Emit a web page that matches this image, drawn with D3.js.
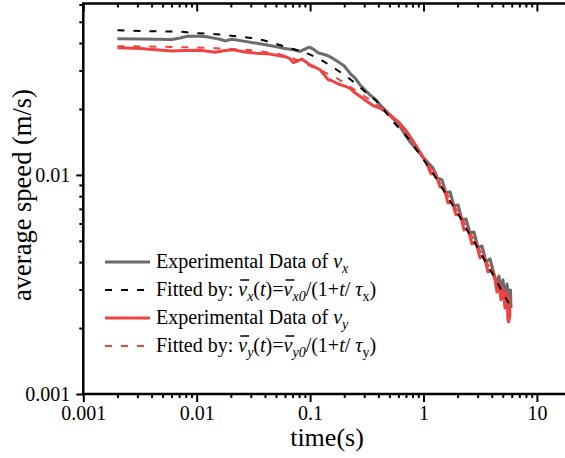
<!DOCTYPE html>
<html>
<head>
<meta charset="utf-8">
<script src="https://cdn.jsdelivr.net/npm/d3@7/dist/d3.min.js"></script>
<style>
  html, body { margin: 0; padding: 0; background: #fff; }
  svg { display: block; font-family: "Liberation Serif", "Times New Roman", serif; }
</style>
</head>
<body>
<div id="chart"></div>
<script>
const vxTime = [0.002, 0.00316, 0.00602, 0.00712, 0.00838, 0.0107, 0.01225, 0.0145, 0.01605, 0.01777, 0.0205, 0.02667,
  0.0338, 0.0443, 0.0577, 0.0692, 0.0815, 0.0984, 0.106, 0.1174, 0.140, 0.156, 0.176, 0.199, 0.225, 0.249,
  0.275, 0.305, 0.337, 0.381, 0.428, 0.507, 0.621, 0.760, 1.0,
  1.213, 1.315, 1.456, 1.579, 1.713, 1.858, 2.015, 2.185, 2.370, 2.57, 2.788, 3.024, 3.280, 3.557, 3.86, 4.185,
  4.45, 4.63, 4.82, 5.02, 5.23, 5.45, 5.68, 5.85, 5.91]
const vxSpeed = [0.0418, 0.0417, 0.0415, 0.0422, 0.0430, 0.0429, 0.0427, 0.0420, 0.0416, 0.0409, 0.0416, 0.0407,
  0.0399, 0.0390, 0.0379, 0.0374, 0.0366, 0.0383, 0.0376, 0.0361, 0.0352, 0.0342, 0.0329, 0.0315, 0.0291, 0.0277,
  0.0258, 0.0244, 0.0232, 0.0220, 0.0205, 0.0188, 0.0166, 0.01415, 0.01196,
  0.01076, 0.00969, 0.00949, 0.00828, 0.00837, 0.00722, 0.00730, 0.00623, 0.00630, 0.00543, 0.00549, 0.00464, 0.00474, 0.00401, 0.00414, 0.00353,
  0.00315, 0.00346, 0.00292, 0.00332, 0.00274, 0.00318, 0.00263, 0.00298, 0.00247]

const vyTime = [0.002, 0.00316, 0.00602, 0.00788, 0.0107, 0.0145, 0.01777, 0.0209, 0.02667, 0.0338, 0.0443, 0.0622,
  0.0665, 0.0711, 0.0782, 0.0843, 0.0920, 0.0998, 0.1223, 0.1447, 0.156, 0.1773, 0.199, 0.225, 0.249, 0.305, 0.3607,
  0.428, 0.507, 0.621, 0.711, 0.871, 1.067,
  1.165, 1.263, 1.398, 1.516, 1.644, 1.783, 1.934, 2.10, 2.276, 2.469, 2.677, 2.904, 3.15, 3.416, 3.706, 4.019,
  4.27, 4.45, 4.63, 4.82, 5.02, 5.23, 5.45, 5.56, 5.68, 5.79, 5.6]
const vySpeed = [0.0381, 0.0378, 0.0368, 0.0370, 0.0371, 0.0363, 0.0370, 0.0373, 0.0364, 0.0359, 0.0356, 0.0345,
  0.0339, 0.0326, 0.0332, 0.0338, 0.0328, 0.0318, 0.0302, 0.0272, 0.0269, 0.0260, 0.0255, 0.0249, 0.0237, 0.0220, 0.0207,
  0.0200, 0.0188, 0.0172, 0.01577, 0.01346, 0.01131,
  0.01011, 0.01032, 0.00882, 0.00873, 0.00745, 0.00753, 0.00657, 0.00664, 0.00561, 0.00567, 0.00484, 0.00494, 0.00418, 0.00427, 0.00361, 0.00368,
  0.00332, 0.00292, 0.00321, 0.00269, 0.00305, 0.00247, 0.00289, 0.00218, 0.00274, 0.00229, 0.00211]

// fitted curves
const fitxTime = [0.002, 0.00475, 0.00666, 0.01, 0.0145, 0.0210, 0.0338, 0.0665, 0.0933, 0.1266, 0.1716, 0.2327, 0.305,
  0.4135, 0.5243, 0.711, 0.871, 1.102, 1.35, 1.621, 1.987, 2.404, 2.945, 3.557, 4.27, 5.13, 5.79]
const fitxSpeed = [0.0458, 0.0452, 0.0451, 0.0444, 0.0439, 0.0431, 0.0418, 0.0379, 0.0359, 0.0333, 0.0302, 0.0270, 0.0240,
  0.0209, 0.0178, 0.01496, 0.0130, 0.01091, 0.00932, 0.00796, 0.00673, 0.00565, 0.00474, 0.00398, 0.00338, 0.00283, 0.00255]

const fityTime = [0.002, 0.00582, 0.0145, 0.0338, 0.0601, 0.0933, 0.1274, 0.1773, 0.249, 0.337, 0.4576, 0.711, 1.102,
  1.987, 3.557, 5.79]
const fitySpeed = [0.0387, 0.0384, 0.0379, 0.0368, 0.0350, 0.0320, 0.0298, 0.0274, 0.0244, 0.0220, 0.0194, 0.0154, 0.0111,
  0.00685, 0.00405, 0.00260]

const xTickLabels = ['0.001', '0.01', '0.1', '1', '10']
const yTickLabels = ['0.001', '0.01']

const width = 565
const height = 458
const leftX = 83.3
const bottomY = 394
const topY = 3.5
const decadeX = 113.4

const gray = '#6b6b6b'
const red = '#ee4343'
const serif = '"Liberation Serif", "Times New Roman", serif'

const svg = d3.select('#chart').append('svg')
  .attr('width', width)
  .attr('height', height)
  .attr('font-family', serif)

const x = d3.scaleLog()
  .domain([0.001, 20])
  .range([leftX, leftX + decadeX * Math.log10(20 / 0.001)])

const y = d3.scaleLog()
  .domain([0.001, 0.0606])
  .range([bottomY, topY])

const isMajor = (d) => Math.abs(Math.log10(d) - Math.round(Math.log10(d))) < 1e-6

const xTicks = x.ticks().filter(d => d <= 12)
const yTicks = y.ticks()

// data lines
const rawLine = d3.line()
  .x(d => x(d[0]))
  .y(d => y(d[1]))

const smoothLine = d3.line()
  .x(d => x(d[0]))
  .y(d => y(d[1]))
  .curve(d3.curveMonotoneX)

const plot = svg.append('g')

plot.append('path')
  .datum(d3.zip(vxTime, vxSpeed))
  .attr('d', rawLine)
  .attr('fill', 'none')
  .attr('stroke', gray)
  .attr('stroke-width', 3)
  .attr('stroke-linejoin', 'round')

plot.append('path')
  .datum(d3.zip(vyTime, vySpeed))
  .attr('d', rawLine)
  .attr('fill', 'none')
  .attr('stroke', red)
  .attr('stroke-width', 3)
  .attr('stroke-linejoin', 'round')

plot.append('path')
  .datum(d3.zip(fityTime, fitySpeed))
  .attr('d', smoothLine)
  .attr('fill', 'none')
  .attr('stroke', red)
  .attr('stroke-width', 2)
  .attr('stroke-dasharray', '7,9')

plot.append('path')
  .datum(d3.zip(fitxTime, fitxSpeed))
  .attr('d', smoothLine)
  .attr('fill', 'none')
  .attr('stroke', '#000')
  .attr('stroke-width', 2)
  .attr('stroke-dasharray', '7,9')

// axes
const fmtX = d => isMajor(d) ? xTickLabels[Math.round(Math.log10(d)) + 3] : ''
const fmtY = d => isMajor(d) ? yTickLabels[Math.round(Math.log10(d)) + 3] : ''

const styleAxis = (g) => {
  g.attr('font-family', serif).attr('font-size', 20)
  g.select('.domain').remove()
  g.selectAll('.tick line').attr('stroke', '#000').attr('stroke-width', 2)
  g.selectAll('.tick text').attr('fill', '#000')
}

const xAxis = svg.append('g')
  .attr('transform', `translate(0,${bottomY})`)
  .call(d3.axisBottom(x).tickValues(xTicks).tickFormat(fmtX).tickSize(4).tickPadding(8))
  .call(styleAxis)
xAxis.selectAll('.tick').filter(isMajor).select('line').attr('y2', 8)

const topAxis = svg.append('g')
  .attr('transform', `translate(0,${topY})`)
  .call(d3.axisTop(x).tickValues(xTicks).tickFormat('').tickSize(-4))
  .call(styleAxis)
topAxis.selectAll('.tick').filter(isMajor).select('line').attr('y2', 8)

const yAxis = svg.append('g')
  .attr('transform', `translate(${leftX},0)`)
  .call(d3.axisLeft(y).tickValues(yTicks).tickFormat(fmtY).tickSize(4).tickPadding(9))
  .call(styleAxis)
yAxis.selectAll('.tick').filter(isMajor).select('line').attr('x2', -7)

// frame lines
svg.append('path')
  .attr('d', `M${leftX},${bottomY}V${topY}H${width + 2}M${leftX},${bottomY}H${width + 2}`)
  .attr('fill', 'none')
  .attr('stroke', '#000')
  .attr('stroke-width', 2.5)

// axis titles
svg.append('text')
  .attr('x', 327)
  .attr('y', 446)
  .attr('text-anchor', 'middle')
  .attr('font-size', 26)
  .text('time(s)')

svg.append('text')
  .attr('transform', 'translate(31,195) rotate(-90)')
  .attr('text-anchor', 'middle')
  .attr('font-size', 26.5)
  .text('average speed (m/s)')

// legend
const legend = svg.append('g').attr('font-size', 20)
const rows = [
  { color: gray, dash: null, w: 3, parts: [['Experimental Data of ', 'n'], ['v', 'i'], ['x', 'is']] },
  { color: '#000', dash: '7,9', w: 2, parts: [['Fitted by: ', 'n'], ['v', 'ib'], ['x', 'is'], ['(', 'n'], ['t', 'i'], [')=', 'n'], ['v', 'ib'], ['x0', 'is'], ['/(1+', 'n'], ['t', 'i'], ['/ ', 'n'], ['τ', 'i'], ['x', 's'], [')', 'n']] },
  { color: red, dash: null, w: 3, parts: [['Experimental Data of ', 'n'], ['v', 'i'], ['y', 'is']] },
  { color: red, dash: '7,9', w: 2, parts: [['Fitted by: ', 'n'], ['v', 'ib'], ['y', 'is'], ['(', 'n'], ['t', 'i'], [')=', 'n'], ['v', 'ib'], ['y0', 'is'], ['/(1+', 'n'], ['t', 'i'], ['/ ', 'n'], ['τ', 'i'], ['y', 's'], [')', 'n']] }
]

rows.forEach((row, i) => {
  const cy = 262 + i * 28
  legend.append('line')
    .attr('x1', 105).attr('x2', 150)
    .attr('y1', cy).attr('y2', cy)
    .attr('stroke', row.color)
    .attr('stroke-width', row.w)
    .attr('stroke-dasharray', row.dash)

  const txt = legend.append('text')
    .attr('x', 156)
    .attr('y', cy + 6)
  const bars = []
  let idx = 0
  row.parts.forEach(([s, kind], k) => {
    const prevSub = k > 0 && row.parts[k - 1][1].includes('s')
    const ts = txt.append('tspan').text(s)
    if (kind.includes('i')) ts.attr('font-style', 'italic')
    if (kind.includes('s')) ts.attr('font-size', 14).attr('dy', 5)
    else if (prevSub) ts.attr('dy', -5)
    if (kind.includes('b')) bars.push(idx)
    idx += s.length
  })
  const node = txt.node()
  bars.forEach(ci => {
    const b = node.getExtentOfChar(ci)
    legend.append('line')
      .attr('x1', b.x + 2).attr('x2', b.x + b.width + 2)
      .attr('y1', cy - 10).attr('y2', cy - 10)
      .attr('stroke', '#000')
      .attr('stroke-width', 1.5)
  })
})
</script>
</body>
</html>
